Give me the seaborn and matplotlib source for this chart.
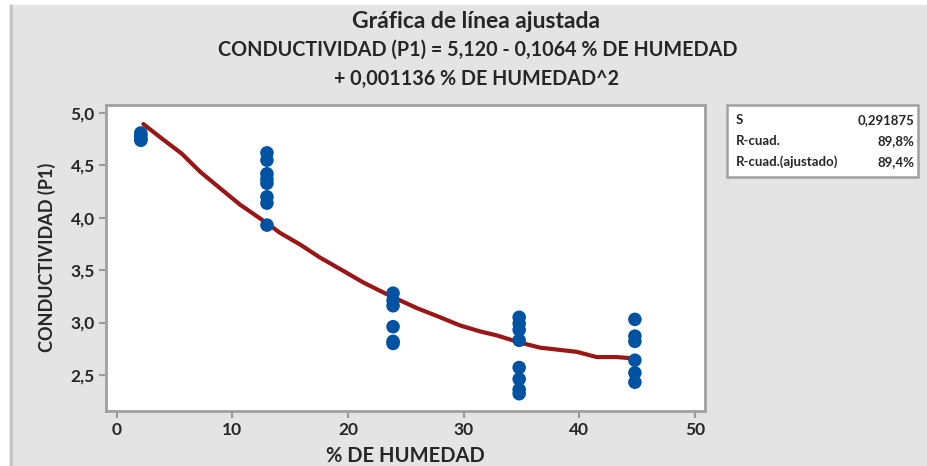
import numpy as np
import pandas as pd
import matplotlib
matplotlib.use("Agg")
import matplotlib.pyplot as plt
import seaborn as sns
from matplotlib.patches import Rectangle
from matplotlib.lines import Line2D

# ---------------- data ----------------
humedad_niveles = [2.1, 13.0, 23.9, 34.8, 44.8]
cond_h1 = [4.81, 4.79, 4.77, 4.75, 4.74]
cond_h2 = [4.62, 4.55, 4.42, 4.37, 4.33, 4.20, 4.14, 3.93]
cond_h3 = [3.28, 3.21, 3.16, 2.96, 2.82, 2.80]
cond_h4 = [3.05, 2.99, 2.93, 2.83, 2.57, 2.46, 2.36, 2.32]
cond_h5 = [3.03, 2.87, 2.82, 2.64, 2.52, 2.43]

# fitted line as drawn in the reference
ajuste_x = [2.32, 3.76, 5.64, 7.22, 8.95, 10.68, 12.98, 14.13, 15.86, 17.59,
            19.60, 21.33, 23.64, 25.95, 27.96, 29.69, 31.42, 32.86, 34.87,
            36.60, 39.77, 41.50, 43.23, 44.81]
ajuste_y = [4.895, 4.770, 4.612, 4.440, 4.282, 4.125, 3.950, 3.856, 3.745,
            3.620, 3.493, 3.382, 3.255, 3.138, 3.050, 2.972, 2.915, 2.877,
            2.808, 2.760, 2.720, 2.670, 2.670, 2.656]

x_ticks = [0, 10, 20, 30, 40, 50]
y_ticks = [2.5, 3.0, 3.5, 4.0, 4.5, 5.0]
stat_names = ["S", "R-cuad.", "R-cuad.(ajustado)"]
stat_values = ["0,291875", "89,8%", "89,4%"]
title_lines = ["Gráfica de línea ajustada",
               "CONDUCTIVIDAD (P1) = 5,120 - 0,1064 % DE HUMEDAD",
               "+ 0,001136 % DE HUMEDAD^2"]

grupos = [cond_h1, cond_h2, cond_h3, cond_h4, cond_h5]
rows = []
for h, vals in zip(humedad_niveles, grupos):
    for v in vals:
        rows.append({"humedad": h, "cond": v})
df = pd.DataFrame(rows)
df_fit = pd.DataFrame({"humedad": ajuste_x, "cond": ajuste_y})

# ---------------- style ----------------
sns.set_theme(style="white")
plt.rcParams["font.family"] = ["Lato", "DejaVu Sans"]

W, H = 927, 466
BG = "#e4e4e4"
fig = plt.figure(figsize=(W / 100, H / 100), dpi=100, facecolor=BG)

def fx(x):
    return x / W

def fy(y):
    return 1 - y / H

# white strips on top and left, and grey border line
fig.patches.append(Rectangle((0, fy(5)), 1, 5 / H, transform=fig.transFigure,
                             facecolor="white", edgecolor="none", zorder=0))
fig.patches.append(Rectangle((0, 0), fx(9), 1, transform=fig.transFigure,
                             facecolor="white", edgecolor="none", zorder=0))
fig.lines.append(Line2D([fx(10.5), fx(10.5)], [0, fy(5)], transform=fig.transFigure,
                        color="#c4c4c4", lw=2))

ax = fig.add_axes([fx(106), fy(411), fx(705 - 106), (411 - 105) / H])
ax.set_facecolor("white")

sns.lineplot(data=df_fit, x="humedad", y="cond", sort=False, ax=ax,
             color="#9a1616", lw=3.0, zorder=2)
sns.scatterplot(data=df, x="humedad", y="cond", ax=ax, s=95, color="#0052a3",
                edgecolor="none", zorder=3, legend=False)

ax.set_xlim(-0.91, 50.86)
ax.set_ylim(2.155, 5.077)
ax.set_xticks(x_ticks)
ax.set_xticklabels([str(t) for t in x_ticks])
ax.set_yticks(y_ticks)
ax.set_yticklabels([f"{t:.1f}".replace(".", ",") for t in y_ticks])
for lab in ax.get_xticklabels() + ax.get_yticklabels():
    lab.set_fontweight("bold")
    lab.set_fontsize(12.5)
ax.tick_params(axis="both", direction="out", length=5, width=1.5,
               color="#9a9a9a", pad=3, left=True, bottom=True)
for sp in ax.spines.values():
    sp.set_color("#a0a0a0")
    sp.set_linewidth(2)

ax.set_xlabel("")
ax.set_ylabel("")
fig.text(fx(405), fy(456), "% DE HUMEDAD", ha="center", va="center",
         fontsize=14.5, fontweight="bold")
fig.text(fx(47), fy(257), "CONDUCTIVIDAD (P1)", ha="center", va="center",
         rotation=90, fontsize=13, fontweight="bold")

# titles
fig.text(fx(476), fy(21), title_lines[0], ha="center", va="center",
         fontsize=16.5, fontweight="bold")
fig.text(fx(478), fy(50), title_lines[1], ha="center", va="center",
         fontsize=14.2, fontweight="bold")
fig.text(fx(476), fy(79), title_lines[2], ha="center", va="center",
         fontsize=14.2, fontweight="bold")

# stats box
bx0, by0, bx1, by1 = 727, 105, 918, 177
fig.patches.append(Rectangle((fx(bx0), fy(by1)), fx(bx1 - bx0), (by1 - by0) / H,
                             transform=fig.transFigure, facecolor="white",
                             edgecolor="#a0a0a0", lw=1.8, zorder=2))
for i, (n, v) in enumerate(zip(stat_names, stat_values)):
    yy = 120 + i * 21
    fig.text(fx(736), fy(yy), n, ha="left", va="center", fontsize=9.5,
             fontweight="bold", zorder=3)
    fig.text(fx(914), fy(yy), v, ha="right", va="center", fontsize=9.5,
             fontweight="bold", zorder=3)

fig.savefig("out.png", dpi=100, facecolor=BG)
